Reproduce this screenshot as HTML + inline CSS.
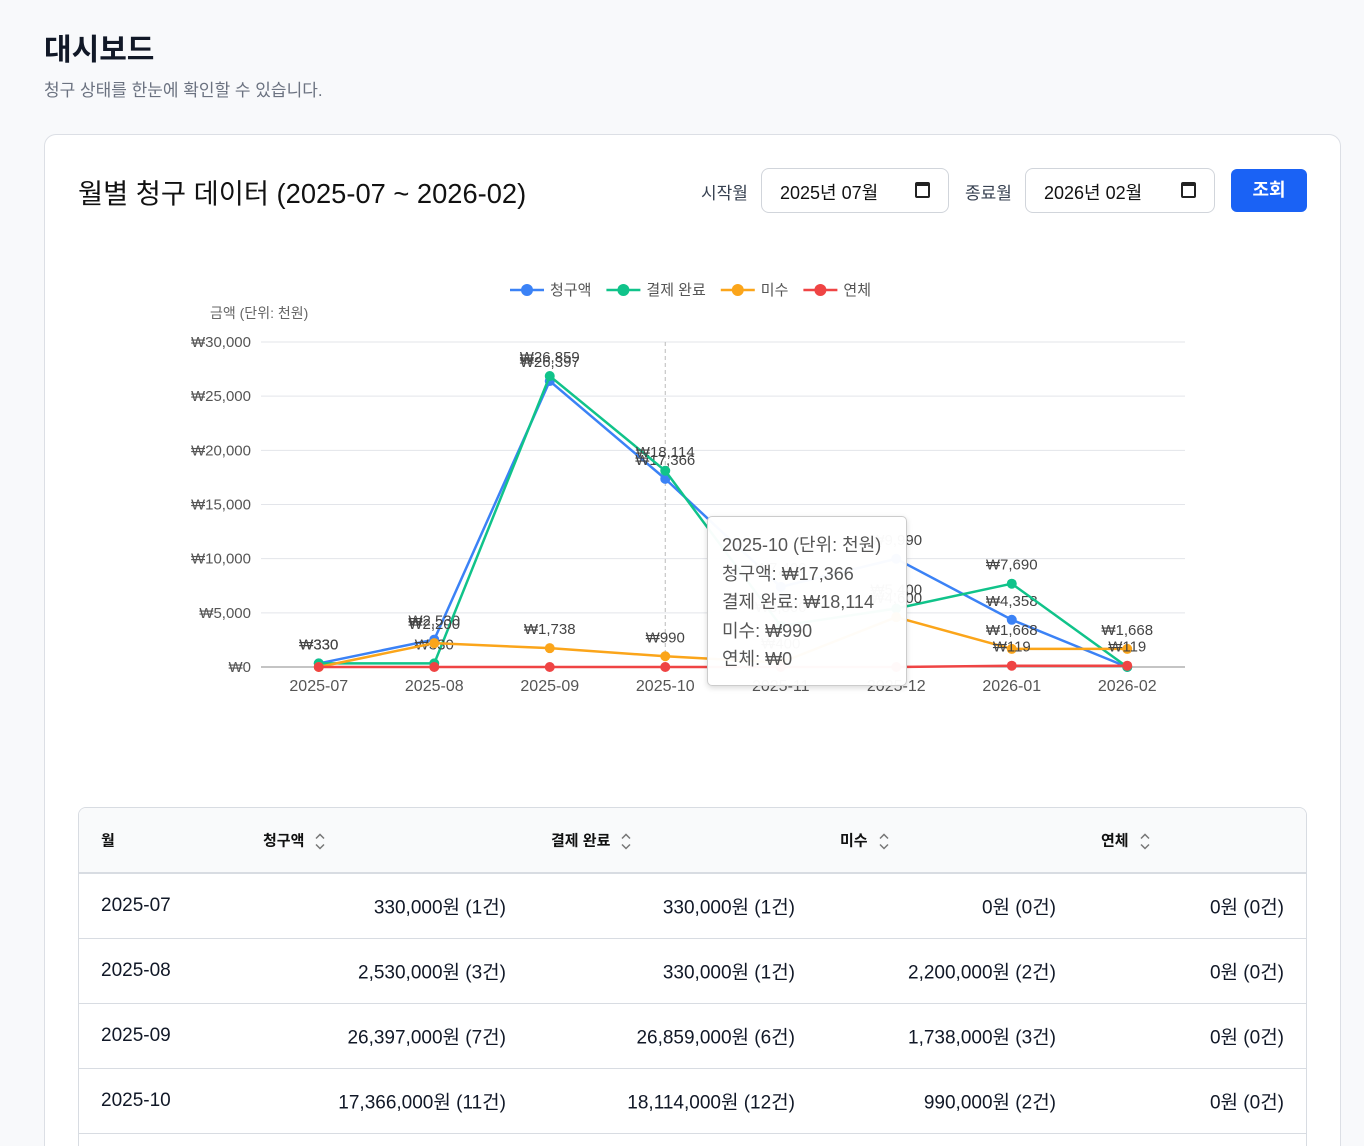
<!DOCTYPE html>
<html><head><meta charset="utf-8">
<style>
*{box-sizing:border-box;margin:0;padding:0}
html,body{width:1364px;height:1146px;overflow:hidden}
body{background:#f8f9fb;font-family:"Liberation Sans","Noto Sans CJK KR",sans-serif;color:#111827;position:relative}
.abs{position:absolute}
h1{position:absolute;left:44px;top:25px;font-size:30px;font-weight:700;color:#111827}
.sub{left:44px;top:76px;font-size:17px;color:#6b7280}
.card{left:44px;top:134px;width:1297px;height:1012px;background:#fff;border:1px solid #dcdfe5;border-bottom:none;border-radius:12px 12px 0 0}
.ctitle{left:78px;top:171px;font-size:27.3px;color:#111}
.lbl{font-size:17px;color:#374151}
.inp{height:45px;border:1px solid #d1d5db;border-radius:8px;background:#fff;font-size:18px;padding:10px 18px;color:#111}
.cal{position:absolute;right:18px;top:13px;width:15px;height:16px;border:2px solid #222;border-top-width:4px;border-radius:2px}
.btn{left:1231px;top:169px;width:76px;height:43px;background:#1a62f5;border-radius:6px;color:#fff;font-size:18px;font-weight:700;text-align:center;line-height:43px}
.table{left:78px;top:807px;width:1229px;height:339px;border:1px solid #d8dce2;border-bottom:none;border-radius:8px 8px 0 0;overflow:hidden;background:#fff}
.th{height:66px;background:#f9fafb;border-bottom:2px solid #d8dce2;position:relative;font-size:15px;font-weight:700;color:#111}
.tr{height:65px;border-bottom:1px solid #d8dce2;position:relative;font-size:19px}
.th span,.tr span{position:absolute;top:50%;transform:translateY(-50%)}
.sort{display:inline-block;margin-left:10px;vertical-align:middle}
.tip{left:707px;top:516px;width:200px;height:170px;background:rgba(255,255,255,.97);border:1px solid #ccc;border-radius:5px;box-shadow:0 2px 6px rgba(0,0,0,.15);padding:14px 14px;font-size:18px;color:#555;line-height:28.5px}
</style></head><body>
<h1>대시보드</h1>
<div class="abs sub">청구 상태를 한눈에 확인할 수 있습니다.</div>
<div class="abs card"></div>
<div class="abs ctitle">월별 청구 데이터 (2025-07 ~ 2026-02)</div>
<div class="abs lbl" style="left:701px;top:179px">시작월</div>
<div class="abs inp" style="left:761px;top:168px;width:188px">2025년 07월<i class="cal"></i></div>
<div class="abs lbl" style="left:965px;top:179px">종료월</div>
<div class="abs inp" style="left:1025px;top:168px;width:190px">2026년 02월<i class="cal"></i></div>
<div class="abs btn">조회</div>

<svg class="abs" style="left:0;top:0" width="1364" height="780" id="chart"></svg>

<div class="abs tip">2025-10 (단위: 천원)<br>청구액: ₩17,366<br>결제 완료: ₩18,114<br>미수: ₩990<br>연체: ₩0</div>

<div class="abs table">
<div class="th">
<span style="left:22px">월</span>
<span style="left:184px">청구액<svg class="sort" width="12" height="18" viewBox="0 0 12 18"><path d="M2 6 L6 2 L10 6 M2 12 L6 16 L10 12" fill="none" stroke="#777" stroke-width="1.5"/></svg></span>
<span style="left:472px">결제 완료<svg class="sort" width="12" height="18" viewBox="0 0 12 18"><path d="M2 6 L6 2 L10 6 M2 12 L6 16 L10 12" fill="none" stroke="#777" stroke-width="1.5"/></svg></span>
<span style="left:761px">미수<svg class="sort" width="12" height="18" viewBox="0 0 12 18"><path d="M2 6 L6 2 L10 6 M2 12 L6 16 L10 12" fill="none" stroke="#777" stroke-width="1.5"/></svg></span>
<span style="left:1022px">연체<svg class="sort" width="12" height="18" viewBox="0 0 12 18"><path d="M2 6 L6 2 L10 6 M2 12 L6 16 L10 12" fill="none" stroke="#777" stroke-width="1.5"/></svg></span>
</div>
<div id="rows"></div>
</div>

<script>
const months=["2025-07","2025-08","2025-09","2025-10","2025-11","2025-12","2026-01","2026-02"];
const billed=[330,2530,26397,17366,7400,9990,4358,0];
const paid=[330,330,26859,18114,3800,5400,7690,0];
const unpaid=[0,2200,1738,990,400,4600,1668,1668];
const overdue=[0,0,0,0,0,0,119,119];
const yTicks=[0,5000,10000,15000,20000,25000,30000];
const tableRows=[
["2025-07","330,000원 (1건)","330,000원 (1건)","0원 (0건)","0원 (0건)"],
["2025-08","2,530,000원 (3건)","330,000원 (1건)","2,200,000원 (2건)","0원 (0건)"],
["2025-09","26,397,000원 (7건)","26,859,000원 (6건)","1,738,000원 (3건)","0원 (0건)"],
["2025-10","17,366,000원 (11건)","18,114,000원 (12건)","990,000원 (2건)","0원 (0건)"]];
const NS="http://www.w3.org/2000/svg";
const svg=document.getElementById('chart');
const L=261,R=1185,T=342,B=667;
const x=i=>L+(R-L)/months.length*(i+0.5);
const y=v=>B-(v/30000)*(B-T);
function el(t,a,txt){const e=document.createElementNS(NS,t);for(const k in a)e.setAttribute(k,a[k]);if(txt!==undefined)e.textContent=txt;svg.appendChild(e);return e;}
yTicks.forEach(v=>{
 const g=el('line',{x1:L,x2:R,y1:y(v),y2:y(v),stroke:v===0?'#888':'#e3e5ea','stroke-width':1});
 
 
 const t=el('text',{x:251,y:y(v)+5,'text-anchor':'end','font-size':15,fill:'#555'},'₩'+v.toLocaleString('en-US'));
 
 
});
const yt=el('text',{x:210,y:318,'font-size':14,fill:'#666'},'금액 (단위: 천원)');


months.forEach((m,i)=>{
 const t=el('text',{x:x(i),y:691,'text-anchor':'middle','font-size':16,fill:'#555'},m);
 
 
});
const cl=el('line',{x1:x(3),x2:x(3),y1:T,y2:B,stroke:'#bbb','stroke-dasharray':'4,3'});


const series=[["청구액",billed,"#3b82f6"],["결제 완료",paid,"#10c38a"],["미수",unpaid,"#fba51a"],["연체",overdue,"#ef4444"]];
series.forEach(([name,vals,c])=>{
 const p=el('polyline',{points:vals.map((v,i)=>x(i)+','+y(v)).join(' '),fill:'none',stroke:c,'stroke-width':2.5});
 
 
 vals.forEach((v,i)=>{
  const d=el('circle',{cx:x(i),cy:y(v),r:5,fill:c});
  
  
  if(v>0){const t=el('text',{x:x(i),y:y(v)-14,'text-anchor':'middle','font-size':15,fill:'#444'},'₩'+v.toLocaleString('en-US'));
  
  }
 });
});
let lx=510;
series.forEach(([name,vals,c])=>{
 el('line',{x1:lx,x2:lx+34,y1:290,y2:290,stroke:c,'stroke-width':2.5});
 const d=el('circle',{cx:lx+17,cy:290,r:6,fill:c});
 
 
 const t=el('text',{x:lx+40,y:295,'font-size':15,fill:'#555'},name);
 
 
 lx+=40+t.getComputedTextLength()+15;
});
const rows=document.getElementById('rows');
const rightOff=[0,800,511,250,22];
tableRows.forEach(r=>{
 const d=document.createElement('div');d.className='tr';
 
 
 r.forEach((c,j)=>{const s=document.createElement('span');s.textContent=c;
  if(j===0)s.style.left='22px';else s.style.right=rightOff[j]+'px';
  
  
  d.appendChild(s);});
 rows.appendChild(d);
});
</script>
</body></html>
